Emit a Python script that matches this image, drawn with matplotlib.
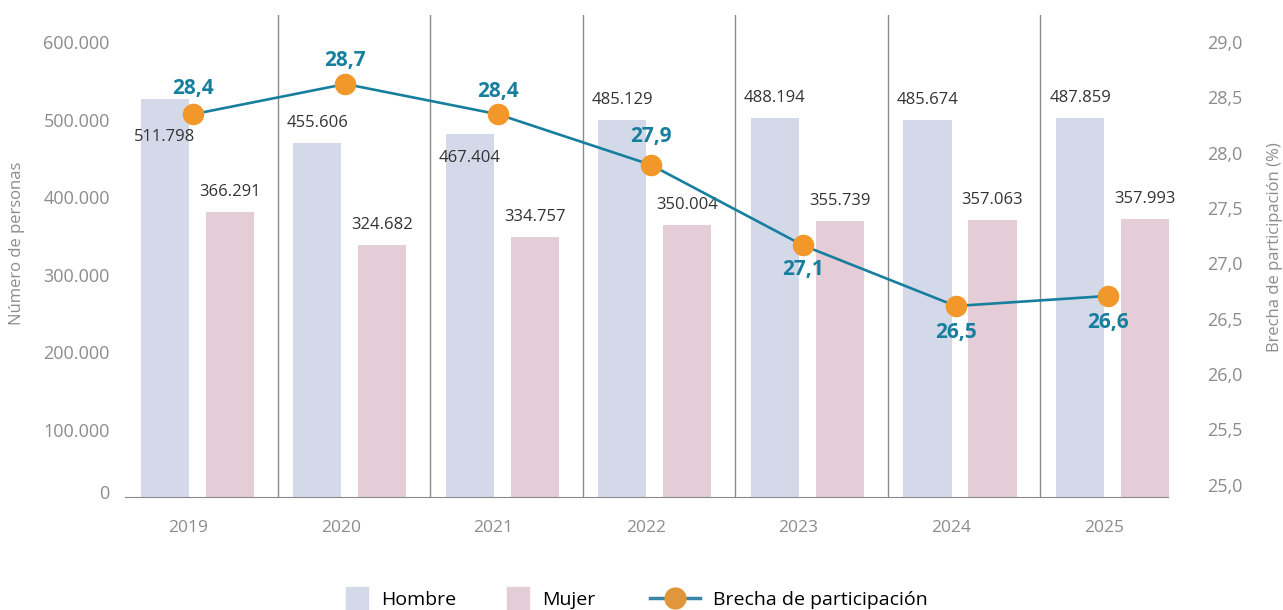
import numpy as np
import matplotlib.pyplot as plt
from matplotlib.transforms import ScaledTranslation
from matplotlib.patches import Rectangle
from matplotlib.lines import Line2D
from matplotlib.legend_handler import HandlerPatch

plt.rcParams['font.family'] = ['Open Sans', 'DejaVu Sans']

years = ['2019', '2020', '2021', '2022', '2023', '2024', '2025']
hombre = [511798, 455606, 467404, 485129, 488194, 485674, 487859]
mujer = [366291, 324682, 334757, 350004, 355739, 357063, 357993]
brecha = [28.4, 28.7, 28.4, 27.9, 27.1, 26.5, 26.6]

# label offsets in pixels (negative = above)
hombre_dy = [38, -20, 24, -20, -20, -20, -20]
brecha_dy = [-26, -24, -23, -28, 24, 27, 27]

c_hombre = '#d4d9ea'
c_mujer = '#e4cdd6'
c_line = '#177f9e'
c_marker = '#f2982b'
c_grid = '#8a8a8a'
c_tick = '#8c8c8c'

fig = plt.figure(figsize=(12.83, 6.10), dpi=100)
ax = fig.add_axes([125/1283, 1 - 496.7/610, 1068/1283, 481.7/610])
x = np.arange(len(years))

ax.bar(x - 0.24, hombre, 0.315, color=c_hombre)
ax.bar(x + 0.186, mujer, 0.315, color=c_mujer)
ax.set_xlim(-0.5, 6.5)
ax.set_ylim(0, 620600)

for s in x[:-1] + 0.5:
    ax.axvline(s, color=c_grid, lw=1)

for sp in ['top', 'left', 'right']:
    ax.spines[sp].set_visible(False)
ax.spines['bottom'].set_color(c_grid)
ax.spines['bottom'].set_bounds(-0.5, 6.335)

yt = list(range(0, 600001, 100000))
ax.set_yticks(yt, [f"{v:,}".replace(",", ".") for v in yt])
ax.set_xticks(x - 0.085, years)
ax.tick_params(axis='y', length=0, pad=11, labelsize=13, labelcolor=c_tick)
ax.tick_params(axis='x', length=0, pad=17, labelsize=12.5, labelcolor=c_tick)
ax.set_ylabel('Número de personas', fontsize=12, color=c_tick)
ax.yaxis.set_label_coords(-0.094, 0.527)

for i in range(len(years)):
    ax.annotate(f"{hombre[i]:,}".replace(",", "."), (x[i] - 0.24, hombre[i]),
                xytext=(0, -hombre_dy[i] * 0.72), textcoords='offset points',
                ha='center', va='center', fontsize=12, color='#333333')
    ax.annotate(f"{mujer[i]:,}".replace(",", "."), (x[i] + 0.186, mujer[i]),
                xytext=(0, 14.4), textcoords='offset points',
                ha='center', va='center', fontsize=12, color='#333333')

ax2 = ax.twinx()
ax2.set_ylim(24.61, 29.384)
ax2.plot(x - 0.055, brecha, color=c_line, lw=1.9, marker='o', ms=14.5,
         mfc=c_marker, mec=c_marker, zorder=3)
for sp in ['top', 'left', 'right', 'bottom']:
    ax2.spines[sp].set_visible(False)
rt = np.arange(25.0, 29.01, 0.5)
ax2.set_yticks(rt, [f"{v:.1f}".replace(".", ",") for v in rt])
ax2.tick_params(axis='y', length=0, pad=10, labelsize=13, labelcolor=c_tick)
ax2.set_ylabel('Brecha de participación (%)', fontsize=12, color=c_tick)
ax2.yaxis.set_label_coords(1.069, 0.518)

for i in range(len(years)):
    ax2.annotate(f"{brecha[i]:.1f}".replace(".", ","), (x[i] - 0.055, brecha[i]),
                 xytext=(0, -brecha_dy[i] * 0.72), textcoords='offset points',
                 ha='center', va='center', fontsize=15, fontweight='bold',
                 color=c_line)

# nudge tick labels to where the original draws them (pixels, + = down)
def nudge(labels, shifts):
    for lbl, dy in zip(labels, shifts):
        lbl.set_transform(lbl.get_transform() +
                          ScaledTranslation(0, -dy / 100, fig.dpi_scale_trans))

nudge(ax.get_yticklabels(), [-5, 11, 11, 11, 11, 11, 11])
nudge(ax2.get_yticklabels(), [27.4 - 4.89 * k for k in range(len(rt))])


def square(legend, orig_handle, xdescent, ydescent, width, height, fontsize):
    h = 16.5
    return Rectangle((-xdescent, -ydescent + height / 2 - h / 2), width, h)


leg_y = 10 / 610
fig.legend([Rectangle((0, 0), 1, 1, color=c_hombre),
            Rectangle((0, 0), 1, 1, color=c_mujer)],
           ['Hombre', 'Mujer'],
           loc='center left', bbox_to_anchor=(346 / 1283, leg_y), ncol=2,
           frameon=False, fontsize=14, handlelength=1.13,
           handletextpad=0.67, columnspacing=2.62, borderpad=0,
           borderaxespad=0,
           handler_map={Rectangle: HandlerPatch(patch_func=square)})
fig.legend([Line2D([], [], color='#3a84a6', lw=2.5, marker='o', ms=15,
                   mfc='#e0963a', mec='#e0963a')],
           ['Brecha de participación'],
           loc='center left', bbox_to_anchor=(650 / 1283, leg_y),
           frameon=False, fontsize=14, handlelength=2.57, handletextpad=0.67,
           borderpad=0, borderaxespad=0)

fig.savefig('out.png', dpi=100)
